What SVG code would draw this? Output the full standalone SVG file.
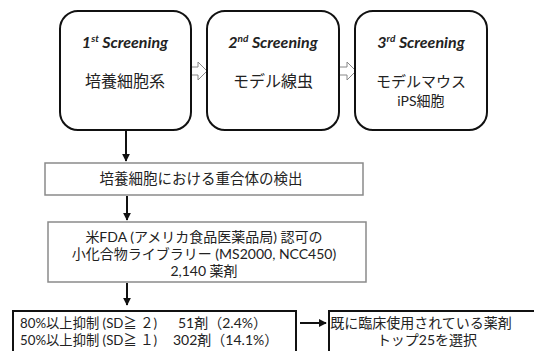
<svg xmlns="http://www.w3.org/2000/svg" width="534" height="351" viewBox="0 0 534 351">
<style>
text{font-family:Lato,"Noto Sans CJK JP",sans-serif;fill:#222;}
.stage{fill:#fff;stroke:#111;stroke-width:2;}
.gbox{fill:#fff;stroke:#8a8a8a;stroke-width:1.5;}
.bbox{fill:#fff;stroke:#111;stroke-width:2;}
.hd{font-size:16px;font-style:italic;font-weight:bold;text-anchor:middle;}
.jp{font-size:16px;text-anchor:middle;}
.t{font-size:14px;}
.tc{font-size:14px;text-anchor:middle;}
.ln{stroke:#111;stroke-width:2;fill:none;}
.hollow{fill:#fff;stroke:#888;stroke-width:1;}
</style>
<defs>
<marker id="ah" viewBox="0 0 10 10" refX="9" refY="5" markerWidth="4" markerHeight="4" orient="auto">
<path d="M0,0 L10,5 L0,10 z" fill="#111"/>
</marker>
</defs>
<g id="connectors">
<path class="hollow" d="M190,67 L198,67 L198,62 L207,71 L198,80 L198,75 L190,75 z"/>
<path class="hollow" d="M339,67 L347,67 L347,62 L356,71 L347,80 L347,75 L339,75 z"/>
<line class="ln" x1="126" y1="118" x2="126" y2="161" marker-end="url(#ah)"/>
<line class="ln" x1="127" y1="196" x2="127" y2="220" marker-end="url(#ah)"/>
<line class="ln" x1="127" y1="283" x2="127" y2="305" marker-end="url(#ah)"/>
<line class="ln" x1="300" y1="323" x2="326" y2="323" marker-end="url(#ah)"/>
</g>
<g id="stage1">
<rect class="stage" x="60" y="11" width="131" height="119" rx="18"/>
<text class="hd" x="125" y="48">1<tspan font-size="10" dy="-6">st</tspan><tspan dy="6"> Screening</tspan></text>
<text class="jp" x="125" y="87">培養細胞系</text>
</g>
<g id="stage2">
<rect class="stage" x="207" y="11" width="132" height="119" rx="18"/>
<text class="hd" x="273" y="48">2<tspan font-size="10" dy="-6">nd</tspan><tspan dy="6"> Screening</tspan></text>
<text class="jp" x="273" y="87">モデル線虫</text>
</g>
<g id="stage3">
<rect class="stage" x="355" y="11" width="132" height="119" rx="18"/>
<text class="hd" x="421" y="48">3<tspan font-size="10" dy="-6">rd</tspan><tspan dy="6"> Screening</tspan></text>
<text class="jp" x="421" y="87" style="font-size:15px">モデルマウス</text>
<text class="tc" x="421" y="106">iPS細胞</text>
</g>
<g id="detect">
<rect class="gbox" x="45" y="163" width="318" height="32"/>
<text class="tc" x="201" y="184" style="font-size:14.5px">培養細胞における重合体の検出</text>
</g>
<g id="library">
<rect class="gbox" x="48" y="222" width="318" height="60"/>
<text class="tc" x="204" y="242">米FDA (アメリカ食品医薬品局) 認可の</text>
<text class="tc" x="204" y="259">小化合物ライブラリー (MS2000, NCC450)</text>
<text class="tc" x="204" y="276">2,140 薬剤</text>
</g>
<g id="results">
<rect class="bbox" x="13" y="311" width="283" height="45"/>
<text class="t" x="20" y="328" textLength="137" lengthAdjust="spacingAndGlyphs">80%以上抑制 (SD≧ ２)</text>
<text class="t" x="178" y="328">51剤（2.4%）</text>
<text class="t" x="20" y="345" textLength="137" lengthAdjust="spacingAndGlyphs">50%以上抑制 (SD≧ １)</text>
<text class="t" x="173" y="345">302剤（14.1%）</text>
</g>
<g id="select">
<rect class="bbox" x="329" y="311" width="215" height="45"/>
<text class="tc" x="421" y="328">既に臨床使用されている薬剤</text>
<text class="tc" x="427" y="345">トップ25を選択</text>
</g>
</svg>
